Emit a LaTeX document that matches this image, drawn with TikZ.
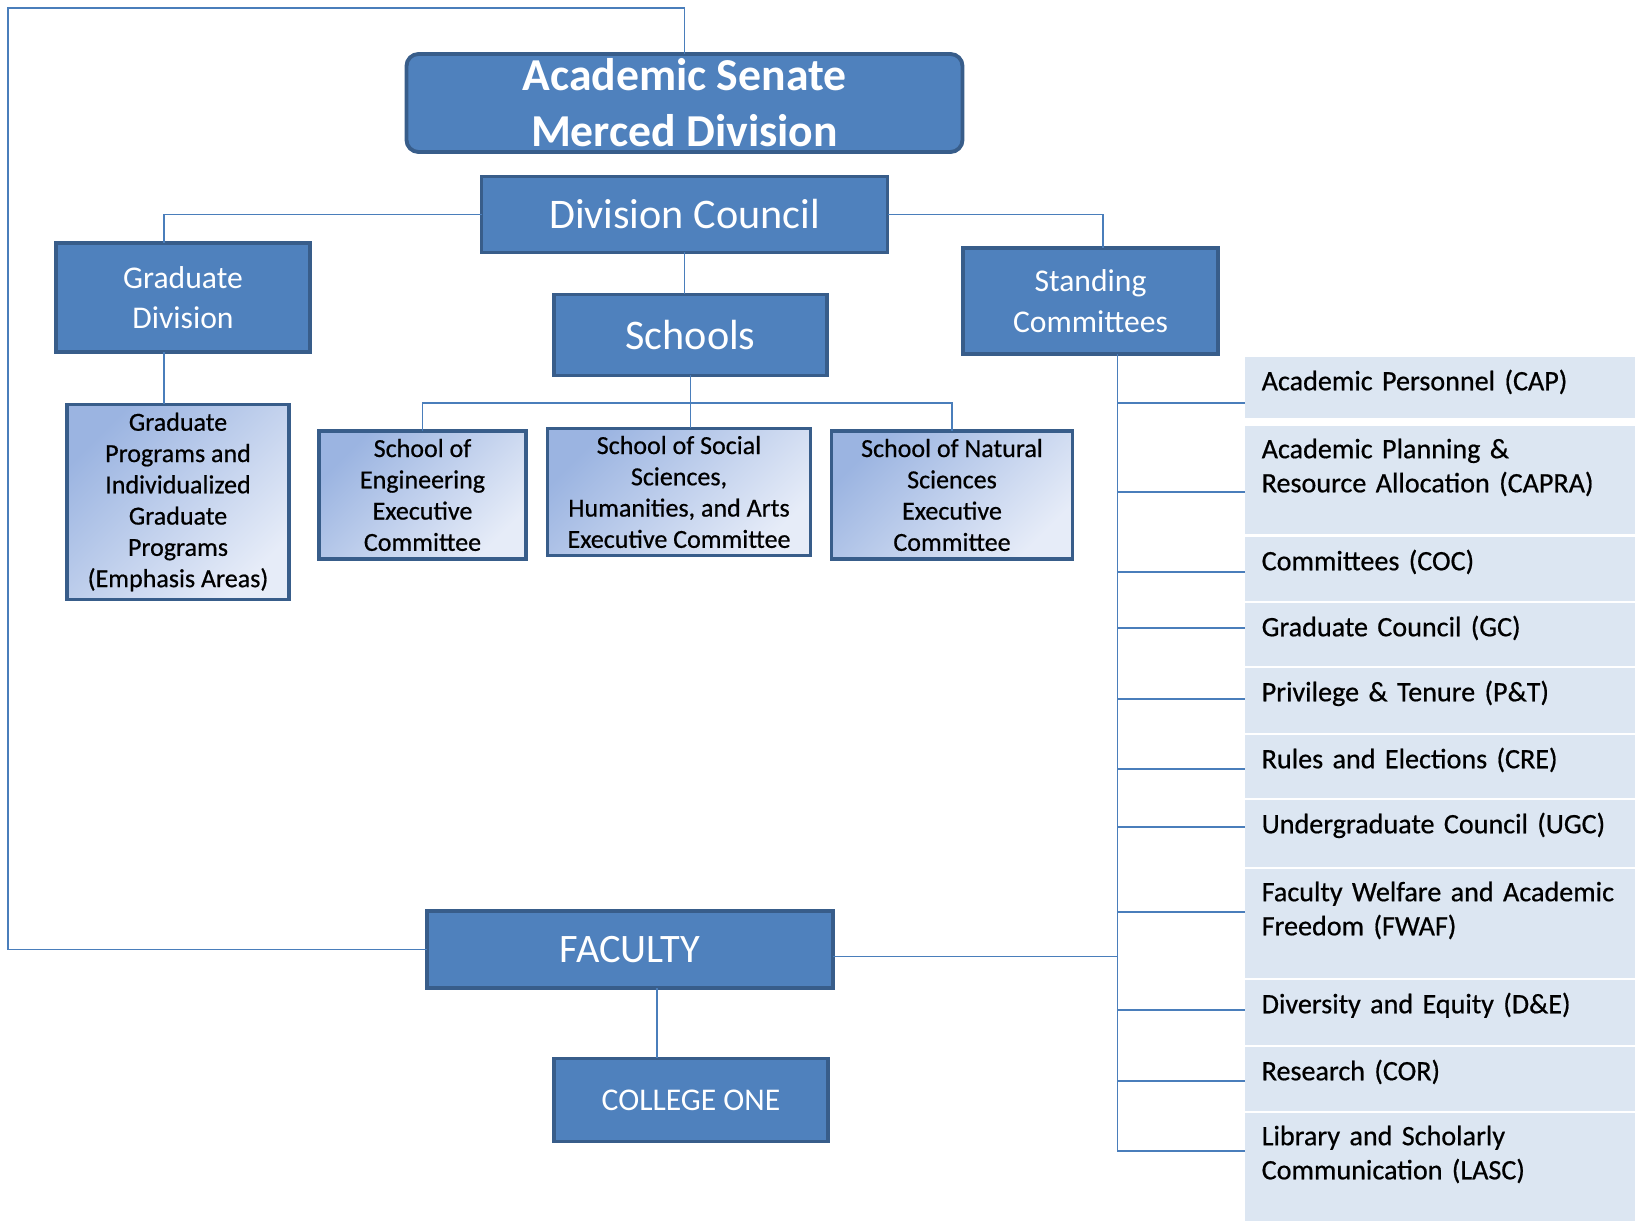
\documentclass[tikz,border=0pt]{standalone}
\usepackage{fontspec}
\setmainfont{Carlito}
\newfontfamily\darkfont[FakeBold=0.6]{Carlito}
\usepackage{tikz}
\usetikzlibrary{positioning}

\definecolor{boxBlue}{RGB}{79,129,189}
\definecolor{boxBorder}{RGB}{56,93,138}
\definecolor{linkBlue}{RGB}{74,126,187}
\definecolor{listFill}{RGB}{220,230,242}
\definecolor{shadeDark}{RGB}{155,180,225}
\definecolor{shadeLight}{RGB}{230,236,248}

\begin{document}
\begin{tikzpicture}[x=0.1mm, y=-0.1mm]
            % Set styles
            \tikzset{
                blueBox/.style={
                        rectangle,
                        draw=boxBorder,
                        fill=boxBlue,
                        line width=1.1pt,
                        outer sep=0pt,
                        inner sep=0pt,
                        text=white,
                        align=center
                    }
            }
            \tikzset{
                shadeBox/.style={
                        rectangle,
                        draw=boxBorder,
                        line width=1.1pt,
                        outer sep=0pt,
                        inner sep=0pt,
                        top color=shadeDark,
                        bottom color=shadeLight,
                        shading angle=45,
                        align=center,
                        font=\darkfont\fontsize{7.4}{8.9}\selectfont
                    }
            }
            \tikzset{
                listBox/.style={
                        rectangle,
                        fill=listFill,
                        anchor=north west,
                        minimum width=39mm,
                        inner sep=0pt,
                        outer sep=0pt
                    }
            }
            \tikzset{
                listText/.style={
                        anchor=north west,
                        inner xsep=1.6mm,
                        inner ysep=1.2mm,
                        text width=36mm,
                        align=left,
                        font=\darkfont\fontsize{8}{9.7}\selectfont
                    }
            }
            \tikzset{
                link/.style={
                        draw=linkBlue,
                        line width=0.5pt
                    }
            }
            \useasboundingbox (0,0) rectangle (1635,1221);
            % Placing nodes
            \node[blueBox, rounded corners=1.2mm, minimum width=55.6mm, minimum height=9.8mm, font=\bfseries\fontsize{13}{16}\selectfont](senate) at (684.5,103){Academic Senate\\Merced Division};
            \node[blueBox, minimum width=40.6mm, minimum height=7.6mm, font=\fontsize{12}{14}\selectfont, below = 2.45mm of senate](council){Division Council};
            \node[blueBox, minimum width=27.3mm, minimum height=8.1mm, font=\fontsize{12}{14}\selectfont, below = 4.2mm of council, xshift = 0.6mm](schools){Schools};
            \node[blueBox, minimum width=25.4mm, minimum height=10.9mm, font=\fontsize{9}{11.5}\selectfont](gradDiv) at (183,297.5){Graduate\\Division};
            \node[blueBox, minimum width=25.5mm, minimum height=10.6mm, font=\fontsize{9}{11.5}\selectfont](standing) at (1090.5,301){Standing\\Committees};
            \node[shadeBox, minimum width=22.2mm, minimum height=19.5mm, below = 5.25mm of gradDiv, xshift = -0.5mm](gradProg){Graduate\\Programs and\\Individualized\\Graduate\\Programs\\(Emphasis Areas)};
            \node[shadeBox, minimum width=26.3mm, minimum height=12.7mm, below = 5.3mm of schools, xshift = -1.15mm](socSch){School of Social\\Sciences,\\Humanities, and Arts\\Executive Committee};
            \node[shadeBox, minimum width=20.7mm, minimum height=12.8mm, left = 2.15mm of socSch, yshift = -0.3mm](engSch){School of\\Engineering\\Executive\\Committee};
            \node[shadeBox, minimum width=24.1mm, minimum height=12.8mm, right = 2.1mm of socSch, yshift = -0.3mm](natSch){School of Natural\\Sciences\\Executive\\Committee};
            \node[blueBox, minimum width=40.6mm, minimum height=7.7mm, font=\fontsize{11.5}{14}\selectfont](faculty) at (630,949.5){FACULTY};
            \node[blueBox, minimum width=27.4mm, minimum height=8.3mm, font=\fontsize{9}{11}\selectfont, below = 7.05mm of faculty, xshift = 6.1mm](college){COLLEGE ONE};
            % Committee list
            \node[listBox, minimum height=6.1mm, label={[listText]north west:Academic Personnel (CAP)}](cap) at (1245,357){};
            \node[listBox, minimum height=10.8mm, label={[listText]north west:Academic Planning \&\\Resource Allocation (CAPRA)}](capra) at (1245,426){};
            \node[listBox, minimum height=6.4mm, label={[listText]north west:Committees (COC)}](coc) at (1245,537){};
            \node[listBox, minimum height=6.3mm, label={[listText]north west:Graduate Council (GC)}](gc) at (1245,603){};
            \node[listBox, minimum height=6.5mm, label={[listText]north west:Privilege \& Tenure (P\&T)}](pt) at (1245,668){};
            \node[listBox, minimum height=6.3mm, label={[listText]north west:Rules and Elections (CRE)}](cre) at (1245,735){};
            \node[listBox, minimum height=6.7mm, label={[listText]north west:Undergraduate Council (UGC)}](ugc) at (1245,800){};
            \node[listBox, minimum height=10.9mm, label={[listText]north west:Faculty Welfare and Academic\\Freedom (FWAF)}](fwaf) at (1245,869){};
            \node[listBox, minimum height=6.5mm, label={[listText]north west:Diversity and Equity (D\&E)}](de) at (1245,980){};
            \node[listBox, minimum height=6.4mm, label={[listText]north west:Research (COR)}](cor) at (1245,1047){};
            \node[listBox, minimum height=10.8mm, label={[listText]north west:Library and Scholarly\\Communication (LASC)}](lasc) at (1245,1113){};
            % Placing lines
            \coordinate (loopCorner) at (8,8);
            \coordinate (bus) at (690,403);
            \coordinate (trunk) at ([xshift=2.7mm]standing.south);
            \draw[link](senate.north) |- (loopCorner) |- (faculty.west);
            \draw[link](council.west) -| ([xshift=-1.9mm]gradDiv.north);
            \draw[link](council.east) -| ([xshift=1.25mm]standing.north);
            \draw[link](council.south) -- (council.south |- schools.north);
            \draw[link]([xshift=-1.9mm]gradDiv.south) -- ([xshift=-1.9mm]gradDiv.south |- gradProg.north);
            \draw[link](schools.south) -- (schools.south |- socSch.north);
            \draw[link](engSch.north) |- (bus) -| (natSch.north);
            \draw[link]([xshift=2.7mm]faculty.south) -- ([xshift=2.7mm]faculty.south |- college.north);
            \draw[link]([yshift=-0.7mm]faculty.east) -| (trunk);
            \draw[link](trunk) |- ([yshift=-1.55mm]cap.west);
            \draw[link](trunk) |- ([yshift=-1.2mm]capra.west);
            \draw[link](trunk) |- ([yshift=-0.3mm]coc.west);
            \draw[link](trunk) |- ([yshift=0.65mm]gc.west);
            \draw[link](trunk) |- ([yshift=0.15mm]pt.west);
            \draw[link](trunk) |- ([yshift=-0.25mm]cre.west);
            \draw[link](trunk) |- ([yshift=0.65mm]ugc.west);
            \draw[link](trunk) |- ([yshift=1.15mm]fwaf.west);
            \draw[link](trunk) |- ([yshift=0.25mm]de.west);
            \draw[link](trunk) |- ([yshift=-0.2mm]cor.west);
            \draw[link](trunk) |- ([yshift=1.6mm]lasc.west);
        \end{tikzpicture}
\end{document}
